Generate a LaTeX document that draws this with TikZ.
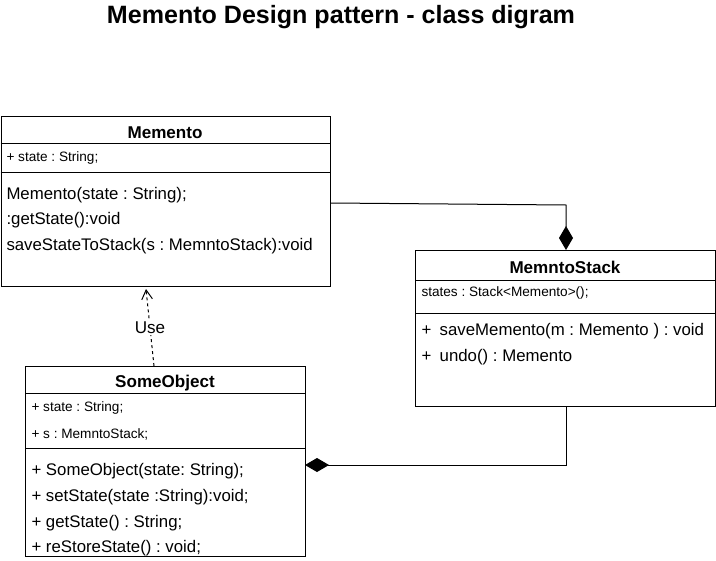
\documentclass[tikz,border=0pt]{standalone}
\usepackage{fontspec}
\setmainfont{Liberation Sans}
\usetikzlibrary{arrows.meta}
\frenchspacing

\begin{document}
\begin{tikzpicture}[x=0.75pt,y=-0.75pt,line width=0.75pt,
    classbox/.style={draw,rectangle,anchor=north west,inner sep=0pt},
    cname/.style={font=\bfseries\fontsize{12.8}{14}\selectfont,inner sep=0pt},
    attr/.style={anchor=west,yshift=-1pt,font=\fontsize{10.2}{12}\selectfont,inner sep=0pt},
    meth/.style={anchor=west,yshift=-1.5pt,font=\fontsize{12.6}{14}\selectfont,inner sep=0pt},
    comp/.style={-{Diamond[length=18pt,width=10.5pt]}}]
    \useasboundingbox (0,0) rectangle (716,560);
    \node[font=\bfseries\fontsize{18.8}{22}\selectfont] (title) at (341,17) {Memento Design pattern - class digram};

    % Memento
    \node[classbox,minimum width=247pt,minimum height=127.5pt] (memento) at (0.5,116) {};
    \draw (0.5,143) -- (330,143);
    \draw (0.5,172) -- (330,172);
    \node[cname] (mtitle) at (165,133) {Memento};
    \node[attr] (mattr) at (6,157) {+ state : String;};
    \node[meth] (mm1) at (6,193) {Memento(state : String);};
    \node[meth] (mm2) at (6,218) {:getState():void};
    \node[meth] (mm3) at (6,244) {saveStateToStack(s : MemntoStack):void};

    % MemntoStack
    \node[classbox,minimum width=225pt,minimum height=117pt] (stack) at (415,250) {};
    \draw (415,280) -- (715.5,280);
    \draw (415,313) -- (715.5,313);
    \node[cname] (stitle) at (565,267) {MemntoStack};
    \node[attr] (sattr) at (421,292) {states : Stack<Memento>();};
    \node[meth] (sm1) at (421,329) {+\enspace saveMemento(m : Memento ) : void};
    \node[meth] (sm2) at (421,355) {+\enspace undo() : Memento};

    % SomeObject
    \node[classbox,minimum width=210pt,minimum height=142.5pt] (someobj) at (25,366) {};
    \draw (25,393) -- (305,393);
    \draw (25,448) -- (305,448);
    \node[cname] (otitle) at (165,383) {SomeObject};
    \node[attr] (oattr1) at (31,407) {+ state : String;};
    \node[attr] (oattr2) at (31,433) {+ s : MemntoStack;};
    \node[meth] (om1) at (31,469) {+ SomeObject(state: String);};
    \node[meth] (om2) at (31,495) {+ setState(state :String):void;};
    \node[meth] (om3) at (31,521) {+ getState() : String;};
    \node[meth] (om4) at (31,546) {+ reStoreState() : void;};

    % connectors
    \coordinate (c1) at (566,205);
    \coordinate (c2) at (566,465);
    \coordinate (c3) at (305,465);
    \coordinate (usefrom) at (154,366);
    \coordinate (useto) at (146,289);
    \draw[comp] (memento.east |- 0,203) -- (c1) -- (stack.north -| c1);
    \draw[comp] (stack.south -| c2) -- (c2) -- (c3);
    \draw[dash pattern=on 2.25pt off 2.25pt,-{Straight Barb[length=7pt,width=8pt]}] (usefrom) -- node[fill=white,inner sep=1pt,font=\fontsize{12.8}{14}\selectfont] (use) {Use} (useto);
\end{tikzpicture}
\end{document}
